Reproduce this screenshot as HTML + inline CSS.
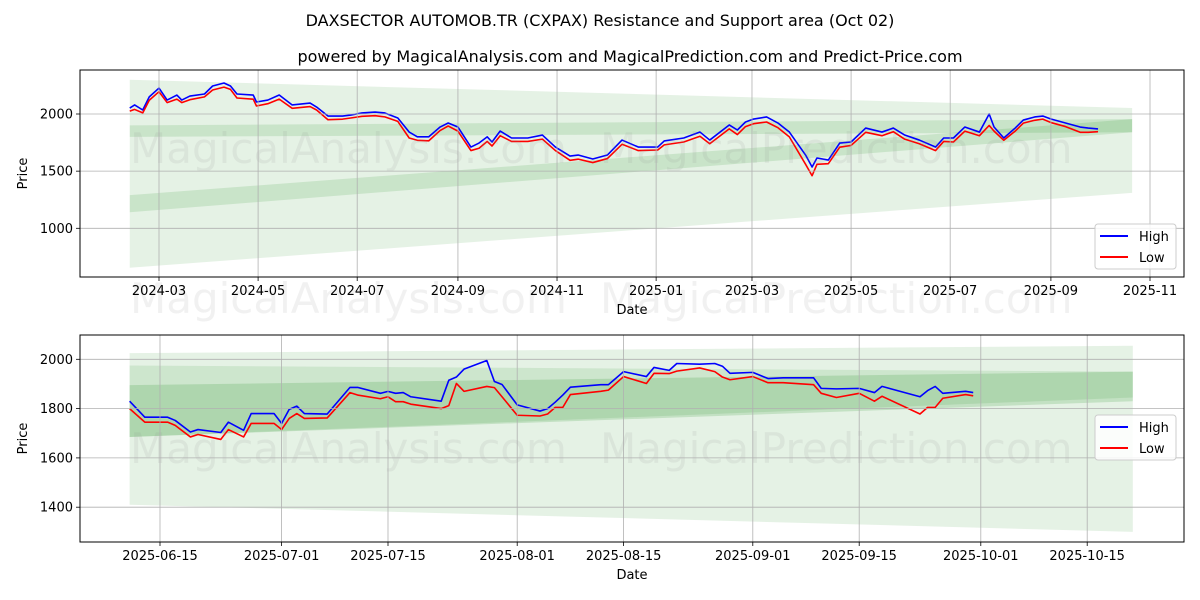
<!DOCTYPE html>
<html><head><meta charset="utf-8"><style>
html,body{margin:0;padding:0;background:#fff;}
svg{display:block;font-family:"DejaVu Sans","Liberation Sans",sans-serif;}
</style></head><body>
<svg id="c" width="1200" height="600" viewBox="0 0 1200 600">
<text x="600" y="26" text-anchor="middle" font-size="16">DAXSECTOR AUTOMOB.TR (CXPAX) Resistance and Support area (Oct 02)</text>
<text x="630" y="62" text-anchor="middle" font-size="16">powered by MagicalAnalysis.com and MagicalPrediction.com and Predict-Price.com</text>
</svg>
<script>
// ---- top chart data ----
const topDates=["2024-02-12","2024-02-15","2024-02-20","2024-02-24","2024-03-01","2024-03-06","2024-03-12","2024-03-15","2024-03-20","2024-03-29","2024-04-03","2024-04-10","2024-04-14","2024-04-18","2024-04-28","2024-04-30","2024-05-07","2024-05-14","2024-05-22","2024-06-02","2024-06-06","2024-06-13","2024-06-22","2024-06-27","2024-07-04","2024-07-12","2024-07-18","2024-07-26","2024-08-02","2024-08-07","2024-08-14","2024-08-21","2024-08-26","2024-09-01","2024-09-09","2024-09-14","2024-09-19","2024-09-22","2024-09-27","2024-10-04","2024-10-14","2024-10-23","2024-10-31","2024-11-09","2024-11-14","2024-11-23","2024-12-02","2024-12-11","2024-12-21","2025-01-02","2025-01-06","2025-01-18","2025-01-28","2025-02-03","2025-02-15","2025-02-20","2025-02-25","2025-03-02","2025-03-10","2025-03-17","2025-03-24","2025-04-03","2025-04-07","2025-04-10","2025-04-17","2025-04-24","2025-05-01","2025-05-10","2025-05-20","2025-05-27","2025-06-03","2025-06-12","2025-06-22","2025-06-27","2025-07-03","2025-07-10","2025-07-19","2025-07-25","2025-07-28","2025-08-03","2025-08-10","2025-08-15","2025-08-22","2025-08-27","2025-09-01","2025-09-10","2025-09-19","2025-09-24","2025-09-30"];
const topHigh=[2052,2079,2035,2150,2227,2122,2166,2122,2157,2175,2245,2271,2245,2175,2166,2105,2122,2166,2079,2096,2061,1982,1982,1991,2009,2017,2009,1965,1842,1800,1800,1886,1921,1886,1711,1746,1800,1755,1851,1790,1790,1816,1711,1632,1641,1606,1641,1772,1711,1711,1764,1790,1842,1772,1904,1860,1930,1956,1974,1921,1842,1641,1536,1615,1597,1746,1755,1877,1842,1877,1816,1772,1711,1790,1790,1886,1842,2000,1886,1790,1877,1947,1974,1982,1956,1921,1886,1877,1869];
const topLow=[2025,2040,2010,2120,2195,2100,2130,2100,2125,2150,2210,2235,2215,2140,2130,2070,2090,2130,2050,2065,2035,1950,1955,1965,1980,1985,1975,1935,1790,1770,1765,1855,1895,1850,1680,1700,1760,1720,1810,1760,1760,1780,1680,1595,1605,1575,1610,1735,1680,1685,1730,1755,1805,1740,1870,1820,1890,1915,1930,1880,1800,1560,1460,1560,1565,1710,1725,1840,1810,1845,1780,1740,1680,1760,1755,1850,1810,1900,1850,1770,1850,1920,1945,1955,1925,1890,1840,1840,1845];
const topYTicks=[1000,1500,2000];
const topXTicks=["2024-03","2024-05","2024-07","2024-09","2024-11","2025-01","2025-03","2025-05","2025-07","2025-09","2025-11"];
const topBandDates=["2024-02-12","2025-10-21"];
const topBandWideTop=[2300,2052], topBandWideBot=[655,1310];
const topBandResTop=[1900,1955], topBandResBot=[1800,1840];
const topBandSupTop=[1290,1955], topBandSupBot=[1140,1840];
// ---- bottom chart data ----
const botDates=["2025-06-11","2025-06-13","2025-06-16","2025-06-17","2025-06-19","2025-06-20","2025-06-23","2025-06-24","2025-06-26","2025-06-27","2025-06-30","2025-07-01","2025-07-02","2025-07-03","2025-07-04","2025-07-07","2025-07-10","2025-07-11","2025-07-14","2025-07-15","2025-07-16","2025-07-17","2025-07-18","2025-07-22","2025-07-23","2025-07-24","2025-07-25","2025-07-28","2025-07-29","2025-07-30","2025-08-01","2025-08-04","2025-08-05","2025-08-06","2025-08-07","2025-08-08","2025-08-12","2025-08-13","2025-08-15","2025-08-18","2025-08-19","2025-08-21","2025-08-22","2025-08-25","2025-08-27","2025-08-28","2025-08-29","2025-09-01","2025-09-03","2025-09-05","2025-09-09","2025-09-10","2025-09-12","2025-09-15","2025-09-17","2025-09-18","2025-09-23","2025-09-24","2025-09-25","2025-09-26","2025-09-29","2025-09-30"];
const botHigh=[1830,1765,1765,1752,1705,1715,1703,1745,1712,1780,1780,1740,1797,1810,1780,1778,1886,1886,1862,1870,1862,1865,1848,1830,1915,1928,1960,1995,1910,1898,1815,1790,1800,1826,1855,1887,1897,1897,1950,1930,1967,1955,1983,1980,1983,1972,1943,1947,1922,1925,1925,1882,1880,1882,1865,1890,1848,1873,1890,1862,1870,1865];
const botLow=[1800,1745,1745,1732,1685,1695,1675,1715,1685,1740,1740,1715,1760,1780,1760,1762,1865,1855,1840,1848,1828,1828,1818,1800,1812,1902,1870,1890,1885,1848,1773,1770,1778,1805,1805,1857,1870,1875,1930,1902,1943,1942,1952,1965,1950,1928,1917,1930,1905,1905,1897,1862,1845,1862,1830,1850,1778,1805,1805,1842,1857,1852];
const botYTicks=[1400,1600,1800,2000];
const botXTicks=["2025-06-15","2025-07-01","2025-07-15","2025-08-01","2025-08-15","2025-09-01","2025-09-15","2025-10-01","2025-10-15"];
const botBandDates=["2025-06-11","2025-10-21"];
const botBandWideTop=[2025,2055], botBandWideBot=[1410,1300];
const botBandMidTop=[1975,1950], botBandMidBot=[1685,1845];
const botBandDarkTop=[1895,1950], botBandDarkBot=[1685,1830];

const NS="http://www.w3.org/2000/svg";
const svg=document.getElementById('c');
function mk(tag,attrs,parent){const e=document.createElementNS(NS,tag);for(const k in attrs)e.setAttribute(k,attrs[k]);(parent||svg).appendChild(e);return e;}
function dayNum(s){const p=s.split('-');return Date.UTC(+p[0],+p[1]-1,p[2]?+p[2]:1)/86400000;}

function drawPanel(cfg){
  const {L,R,T,B,x,y}=cfg;
  const g=mk('g',{});
  
  
  const defs=mk('defs',{},g);
  const cp=mk('clipPath',{id:cfg.name+'-clip'},defs);
  mk('rect',{x:L,y:T,width:R-L,height:B-T},cp);
  const pg=mk('g',{'clip-path':`url(#${cfg.name}-clip)`},g);
  // bands
  cfg.bands.forEach(b=>{
    const x0=x(dayNum(cfg.bandDates[0])),x1=x(dayNum(cfg.bandDates[1]));
    const p=mk('polygon',{points:`${x0},${y(b.top[0])} ${x1},${y(b.top[1])} ${x1},${y(b.bot[1])} ${x0},${y(b.bot[0])}`,fill:'rgb(0,128,0)','fill-opacity':b.a},pg);
    
    
  });
  // watermarks
  cfg.marks.forEach(m=>{
    const t=mk('text',{x:m[0],y:m[1],'font-size':42,fill:'#888','fill-opacity':0.12},g);
    t.textContent=m[2];
    
    
  });
  // grid + ticks
  cfg.xt.forEach(s=>{
    const xx=x(dayNum(s));
    mk('line',{x1:xx,x2:xx,y1:T,y2:B,stroke:'#b0b0b0','stroke-width':0.8},g);
    mk('line',{x1:xx,x2:xx,y1:B,y2:B+4,stroke:'#000','stroke-width':0.8},g);
    const t=mk('text',{x:xx,y:B+18,'text-anchor':'middle','font-size':13},g);
    t.textContent=s;
    
    
  });
  cfg.yt.forEach(v=>{
    const yy=y(v);
    mk('line',{x1:L,x2:R,y1:yy,y2:yy,stroke:'#b0b0b0','stroke-width':0.8},g);
    mk('line',{x1:L-4,x2:L,y1:yy,y2:yy,stroke:'#000','stroke-width':0.8},g);
    const t=mk('text',{x:L-7,y:yy+4.5,'text-anchor':'end','font-size':13},g);
    t.textContent=v;
    
    
  });
  // series
  [[cfg.hi,'#0000ff','high-line'],[cfg.lo,'#ff0000','low-line']].forEach(([arr,col,nm])=>{
    const pts=cfg.dates.map((d,i)=>x(dayNum(d))+','+y(arr[i])).join(' ');
    const pl=mk('polyline',{points:pts,fill:'none',stroke:col,'stroke-width':1.6,'stroke-linejoin':'round'},pg);
    
    
  });
  mk('rect',{x:L,y:T,width:R-L,height:B-T,fill:'none',stroke:'#000','stroke-width':1},g);
  const xl=mk('text',{x:(L+R)/2,y:B+37,'text-anchor':'middle','font-size':13},g);
  xl.textContent='Date';
  
  
  const cy=(T+B)/2;
  const yl=mk('text',{x:27,y:cy,'text-anchor':'middle','font-size':13,transform:`rotate(-90 27 ${cy})`},g);
  yl.textContent='Price';
  
  
  // legend
  const lg=mk('g',{},g);
  
  
  const ly=cfg.legY;
  mk('rect',{x:1095,y:ly,width:81,height:45,rx:3,fill:'#fff','fill-opacity':0.85,stroke:'#ccc'},lg);
  [['High','#0000ff',0],['Low','#ff0000',21]].forEach(([lab,col,dy])=>{
    mk('line',{x1:1100,x2:1128,y1:ly+12+dy,y2:ly+12+dy,stroke:col,'stroke-width':2},lg);
    const t=mk('text',{x:1139,y:ly+17+dy,'font-size':13},lg);
    t.textContent=lab;
    
    
  });
}

const t0=dayNum("2024-03-01");
drawPanel({name:'top-panel',L:80,R:1184,T:70,B:277,
  x:d=>159+(d-t0)*1.6246, y:v=>114+(2000-v)*0.1143,
  dates:topDates,hi:topHigh,lo:topLow,xt:topXTicks,yt:topYTicks,legY:224,bandDates:topBandDates,
  bands:[{top:topBandWideTop,bot:topBandWideBot,a:0.1,name:'band-wide'},{top:topBandResTop,bot:topBandResBot,a:0.12,name:'band-resistance'},{top:topBandSupTop,bot:topBandSupBot,a:0.12,name:'band-support'}],
  marks:[[130,163,'MagicalAnalysis.com'],[600,163,'MagicalPrediction.com'],[130,313,'MagicalAnalysis.com'],[600,313,'MagicalPrediction.com']]});
const b0=dayNum("2025-06-15");
drawPanel({name:'bottom-panel',L:80,R:1184,T:335,B:542,
  x:d=>160+(d-b0)*7.6, y:v=>359.3+(2000-v)*0.2465,
  dates:botDates,hi:botHigh,lo:botLow,xt:botXTicks,yt:botYTicks,legY:415,bandDates:botBandDates,
  bands:[{top:botBandWideTop,bot:botBandWideBot,a:0.1,name:'band-wide'},{top:botBandMidTop,bot:botBandMidBot,a:0.1,name:'band-mid'},{top:botBandDarkTop,bot:botBandDarkBot,a:0.15,name:'band-dark'}],
  marks:[[130,463,'MagicalAnalysis.com'],[600,463,'MagicalPrediction.com']]});
</script>
</body></html>
